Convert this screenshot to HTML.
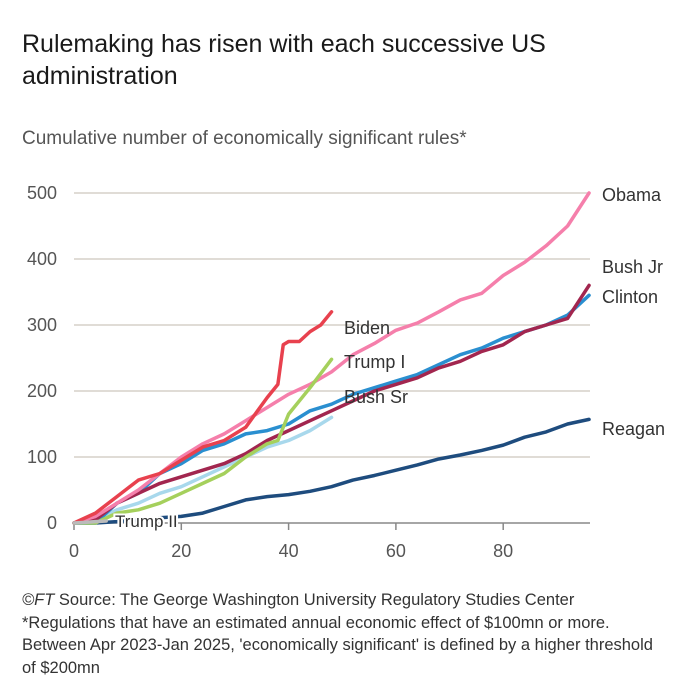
<!DOCTYPE html>
<html><head><meta charset="utf-8"><style>
body{margin:0;width:700px;height:700px;background:#fff;font-family:"Liberation Sans",sans-serif;overflow:hidden}
.t{position:absolute;left:22px;color:#1a1a1a;white-space:nowrap}
</style></head><body>
<div class="t" style="top:28px;font-size:25px;line-height:32px">Rulemaking has risen with each successive US<br>administration</div>
<div class="t" style="top:128px;font-size:19px;color:#555">Cumulative number of economically significant rules*</div>
<svg id="c" width="700" height="700" style="position:absolute;left:0;top:0"></svg>
<div class="t" style="top:589px;font-size:16.5px;line-height:22.5px;color:#333"><i>©FT</i> Source: The George Washington University Regulatory Studies Center<br>*Regulations that have an estimated annual economic effect of $100mn or more.<br>Between Apr 2023-Jan 2025, 'economically significant' is defined by a higher threshold<br>of $200mn</div>
<script>
const m4=[0,4,8,12,16,20,24,28,32,36,40,44,48,52,56,60,64,68,72,76,80,84,88,92,96];
const m48=[0,4,8,12,16,20,24,28,32,36,40,44,48];
const obama=[0,10,30,50,75,100,120,135,155,175,195,210,229,255,272,292,303,320,338,348,375,395,420,450,500];
const bushJr=[0,0,30,45,75,90,110,120,135,140,150,170,180,195,205,215,225,240,255,265,280,290,300,315,345];
const clinton=[0,5,30,45,60,70,80,90,105,125,140,155,170,185,200,210,220,235,245,260,270,290,300,310,360];
const reagan=[0,0,2,5,8,10,15,25,35,40,43,48,55,65,72,80,88,97,103,110,118,130,138,150,157];
const bushSr=[0,5,20,30,45,55,70,85,100,115,125,140,160];
const bidenX=[0,4,8,12,16,20,24,28,32,36,38,39,40,42,44,46,48];
const biden=[0,15,40,65,75,95,115,125,145,190,210,270,275,275,290,300,320];
const trump1X=[0,4,8,12,16,20,24,28,32,36,38,40,44,48];
const trump1=[0,0,15,20,30,45,60,75,100,120,125,165,205,248];
const trump2X=[0,2,4,6];
const trump2=[0,1,2,3];
const yTicks=[0,100,200,300,400,500];
const xTicks=[0,20,40,60,80];
const X=v=>74+v*5.365, Y=v=>523-v*0.66;
const svg=document.getElementById('c');const NS='http://www.w3.org/2000/svg';
function el(t,a){const e=document.createElementNS(NS,t);for(const k in a)e.setAttribute(k,a[k]);svg.appendChild(e);return e;}
yTicks.forEach(v=>{
 const l=el('line',{x1:74,x2:590,y1:Y(v),y2:Y(v),stroke:v==0?'#888':'#d6d0c8','stroke-width':1.5});
 
 
 const t=el('text',{x:57,y:Y(v)+6,'text-anchor':'end','font-size':18,fill:'#555'});t.textContent=v;
 
 
});
xTicks.forEach(v=>{
 const l=el('line',{x1:X(v),x2:X(v),y1:523,y2:530,stroke:'#888','stroke-width':1.5});
 
 
 const t=el('text',{x:X(v),y:557,'text-anchor':'middle','font-size':18,fill:'#555'});t.textContent=v;
 
 
});
function line(xs,ys,col,name,w){
 const p=el('polyline',{points:xs.map((x,i)=>X(x)+','+Y(ys[i])).join(' '),fill:'none',stroke:col,'stroke-width':w||3.5,'stroke-linejoin':'round','stroke-linecap':'round'});
 
 
}
line(m4,reagan,'#1e4c7e','line-reagan');
line(m48,bushSr,'#a8d8ec','line-bush-sr');
line(m4,bushJr,'#2a8fd0','line-bush-jr');
line(m4,clinton,'#a2264f','line-clinton');
line(m4,obama,'#f57fab','line-obama');
line(trump1X,trump1,'#a5d05c','line-trump-i');
line(bidenX,biden,'#e8414e','line-biden');
line(trump2X,trump2,'#bbb','line-trump-ii');
const labels=[['Obama',602,201],['Bush Jr',602,273],['Clinton',602,303],['Reagan',602,435],['Biden',344,334],['Trump I',344,368],['Bush Sr',344,403]];
labels.forEach(([n,x,y])=>{
 const t=el('text',{x:x,y:y,'font-size':18,fill:'#333'});t.textContent=n;
 
 
});
const t2=el('text',{x:115,y:527,'font-size':17,fill:'#333',stroke:'#fff','stroke-width':4,'paint-order':'stroke'});t2.textContent='Trump II';


</script>
</body></html>
